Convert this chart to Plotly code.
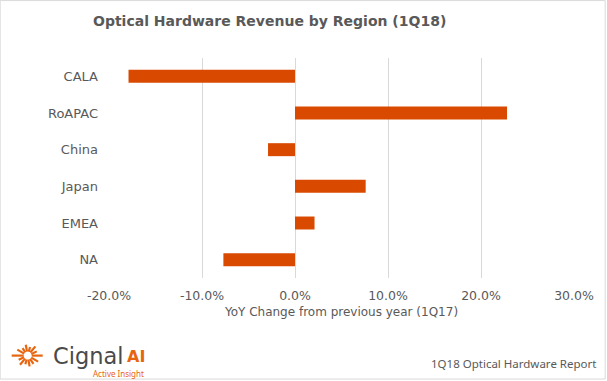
import math
import plotly.graph_objects as go

regions = ["CALA", "RoAPAC", "China", "Japan", "EMEA", "NA"]
yoy_change = [-0.179, 0.228, -0.029, 0.076, 0.021, -0.077]
x_ticks = [-0.2, -0.1, 0.0, 0.1, 0.2, 0.3]
x_tick_labels = ["-20.0%", "-10.0%", "0.0%", "10.0%", "20.0%", "30.0%"]

W, H = 607, 381
L, R, T, B = 109.3, 574.3, 58.0, 278.3

def px(x):
    return (x - L) / (R - L)

def py(y):
    return (B - y) / (B - T)

GRAY = "#595959"
ORANGE = "#D94A00"
FONT = "DejaVu Sans"

fig = go.Figure(go.Bar(
    x=yoy_change, y=regions, orientation="h",
    marker=dict(color=ORANGE, line=dict(width=0)),
))

shapes = [
    dict(type="rect", xref="paper", yref="paper",
         x0=px(0.5), x1=px(605.5), y0=py(0.5), y1=py(379.5),
         line=dict(color="#d9d9d9", width=1), layer="below"),
]

# sunburst logo rays
cx, cy = 28, 356
rays = [(0, 15), (25, 10), (50, 12), (75, 9), (100, 11), (125, 9), (150, 12),
        (180, 16), (205, 10), (230, 12), (255, 9), (280, 11), (305, 10), (330, 12)]
for ang, ln in rays:
    a = math.radians(ang)
    r0 = 4
    shapes.append(dict(type="line", xref="paper", yref="paper",
                       x0=px(cx + r0 * math.cos(a)), y0=py(cy - r0 * math.sin(a)),
                       x1=px(cx + ln * math.cos(a)), y1=py(cy - ln * math.sin(a)),
                       line=dict(color="#E8650F", width=2.2)))

annotations = [
    dict(text="<b>Optical Hardware Revenue by Region (1Q18)</b>", xref="paper", yref="paper",
         x=px(270), y=py(21), xanchor="center", yanchor="middle", showarrow=False,
         font=dict(family=FONT, size=14, color=GRAY)),
    dict(text="1Q18 Optical Hardware Report", xref="paper", yref="paper",
         x=px(598), y=py(364), xanchor="right", yanchor="middle", showarrow=False,
         font=dict(family="Noto Sans", size=11.5, color=GRAY)),
    dict(text="Cignal", xref="paper", yref="paper",
         x=px(51), y=py(356), xanchor="left", yanchor="middle", showarrow=False,
         font=dict(family="DejaVu Sans", size=22.5, color="#4a4a4a")),
    dict(text="<b>AI</b>", xref="paper", yref="paper",
         x=px(125), y=py(357), xanchor="left", yanchor="middle", showarrow=False,
         font=dict(family="DejaVu Sans", size=16, color="#E8650F")),
    dict(text="Active Insight", xref="paper", yref="paper",
         x=px(91), y=py(374), xanchor="left", yanchor="middle", showarrow=False,
         font=dict(family="Noto Sans", size=8, color="#E8650F")),
]

fig.update_layout(
    width=W, height=H,
    margin=dict(l=L, r=W - R, t=T, b=H - B, autoexpand=False),
    paper_bgcolor="white", plot_bgcolor="white",
    showlegend=False,
    bargap=0.646,
    font=dict(family=FONT, color=GRAY, size=12),
    xaxis=dict(range=[-0.2, 0.3], tickvals=x_ticks, ticktext=x_tick_labels,
               showgrid=True, gridcolor="#d9d9d9", gridwidth=1,
               zeroline=True, zerolinecolor="#d9d9d9", zerolinewidth=1,
               showline=False, ticks="", fixedrange=True,
               ticklabelstandoff=8,
               tickfont=dict(size=12.5, color=GRAY),
               title=dict(text="YoY Change from previous year (1Q17)", standoff=6,
                          font=dict(size=12, color=GRAY))),
    yaxis=dict(autorange="reversed", showgrid=False, showline=False, ticks="",
               ticklabelstandoff=10, fixedrange=True,
               tickfont=dict(size=13, color=GRAY)),
    shapes=shapes,
    annotations=annotations,
)

fig.write_html("out.html", config={"displayModeBar": False})
with open("out.html", "r", encoding="utf-8") as f:
    html = f.read()
html = html.replace("<head>", "<head><style>html,body{margin:0;padding:0;overflow:hidden;}</style>", 1)
with open("out.html", "w", encoding="utf-8") as f:
    f.write(html)
